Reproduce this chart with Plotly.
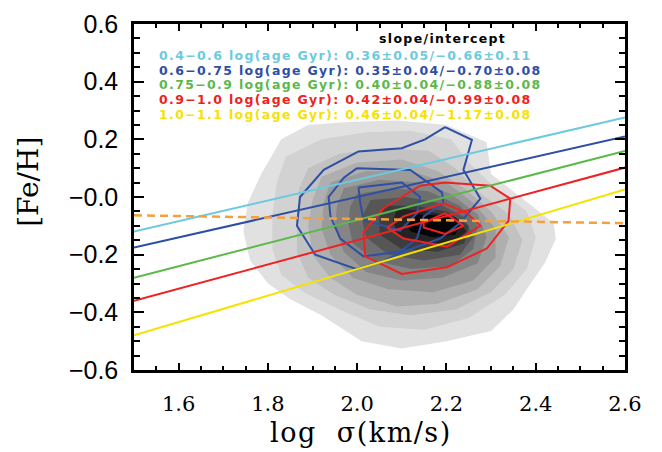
import plotly.graph_objects as go

# ---------------- data ----------------
x_ticks = [1.6, 1.8, 2.0, 2.2, 2.4, 2.6]
x_ticktext = ["1.6", "1.8", "2.0", "2.2", "2.4", "2.6"]
y_ticks = [-0.6, -0.4, -0.2, 0.0, 0.2, 0.4, 0.6]
y_ticktext = ["\u22120.6", "\u22120.4", "\u22120.2", "\u22120.0", "0.2", "0.4", "0.6"]

# fitted relations per age bin
age_bins = ["0.4\u22120.6", "0.6\u22120.75", "0.75\u22120.9", "0.9\u22121.0", "1.0\u22121.1"]
slopes = [0.36, 0.35, 0.40, 0.42, 0.46]
slope_err = [0.05, 0.04, 0.04, 0.04, 0.04]
intercepts = [-0.66, -0.70, -0.88, -0.99, -1.17]
intercept_err = [0.11, 0.08, 0.08, 0.08, 0.08]
bin_colors = ["#6CCAE0", "#2E4FA3", "#5DB84A", "#EE2222", "#F5E200"]

# whole-sample fit (dashed)
all_slope = -0.025
all_intercept = -0.026
x_fit = [1.5, 2.6]

# filled density contours (outer -> inner)
gray_x = [
    [1.83, 1.89, 1.98, 2.09, 2.20, 2.29, 2.30, 2.39, 2.44, 2.445, 2.42, 2.38, 2.35, 2.30, 2.20, 2.10, 2.01, 1.92, 1.85, 1.80, 1.76, 1.745, 1.755, 1.785],
    [1.84, 1.92, 2.02, 2.12, 2.21, 2.25, 2.31, 2.38, 2.40, 2.38, 2.33, 2.25, 2.15, 2.05, 1.96, 1.88, 1.83, 1.81, 1.81, 1.82],
    [1.89, 1.96, 2.06, 2.16, 2.22, 2.27, 2.34, 2.37, 2.35, 2.30, 2.22, 2.12, 2.03, 1.95, 1.89, 1.865, 1.865, 1.87],
    [1.92, 2.00, 2.10, 2.18, 2.24, 2.30, 2.34, 2.32, 2.27, 2.18, 2.09, 2.00, 1.94, 1.90, 1.89, 1.90],
    [1.94, 2.02, 2.12, 2.20, 2.26, 2.31, 2.31, 2.26, 2.17, 2.07, 1.99, 1.94, 1.92, 1.925],
    [1.97, 2.05, 2.14, 2.21, 2.27, 2.29, 2.27, 2.19, 2.10, 2.02, 1.97, 1.95, 1.955],
    [2.00, 2.08, 2.16, 2.23, 2.27, 2.26, 2.21, 2.12, 2.04, 1.99, 1.98, 1.985],
    [2.03, 2.11, 2.18, 2.24, 2.26, 2.23, 2.15, 2.07, 2.02, 2.01],
    [2.06, 2.13, 2.20, 2.25, 2.24, 2.18, 2.10, 2.05, 2.05],
    [2.09, 2.16, 2.22, 2.245, 2.21, 2.14, 2.09, 2.08],
    [2.13, 2.19, 2.23, 2.22, 2.17, 2.12, 2.11],
]
gray_y = [
    [0.20, 0.25, 0.26, 0.265, 0.25, 0.19, 0.08, -0.03, -0.09, -0.145, -0.23, -0.32, -0.39, -0.465, -0.50, -0.525, -0.50, -0.41, -0.355, -0.30, -0.22, -0.12, -0.02, 0.08],
    [0.14, 0.20, 0.225, 0.23, 0.20, 0.12, 0.03, -0.05, -0.14, -0.25, -0.34, -0.42, -0.46, -0.45, -0.39, -0.33, -0.27, -0.18, -0.06, 0.05],
    [0.10, 0.15, 0.17, 0.16, 0.10, 0.02, -0.06, -0.15, -0.25, -0.33, -0.39, -0.41, -0.39, -0.34, -0.28, -0.19, -0.07, 0.03],
    [0.07, 0.12, 0.13, 0.09, 0.03, -0.05, -0.14, -0.24, -0.32, -0.37, -0.38, -0.34, -0.28, -0.20, -0.10, -0.01],
    [0.05, 0.09, 0.09, 0.05, -0.02, -0.11, -0.21, -0.29, -0.33, -0.32, -0.28, -0.20, -0.11, -0.02],
    [0.03, 0.06, 0.05, 0.01, -0.06, -0.14, -0.23, -0.28, -0.29, -0.26, -0.19, -0.10, -0.03],
    [0.01, 0.03, 0.02, -0.03, -0.10, -0.18, -0.24, -0.25, -0.22, -0.16, -0.09, -0.03],
    [-0.01, 0.00, -0.02, -0.07, -0.14, -0.20, -0.22, -0.20, -0.14, -0.07],
    [-0.03, -0.03, -0.05, -0.10, -0.16, -0.19, -0.18, -0.13, -0.07],
    [-0.04, -0.05, -0.07, -0.12, -0.16, -0.16, -0.13, -0.08],
    [-0.06, -0.065, -0.09, -0.13, -0.14, -0.12, -0.09],
]
gray_colors = ["#E1E1E1", "#D2D2D2", "#C2C2C2", "#AFAFAF", "#9B9B9B", "#858585",
               "#6E6E6E", "#565656", "#3D3D3D", "#232323", "#050505"]

# young (blue) and old (red) sample contours
blue_x = [
    [2.197, 2.257, 2.238, 2.276, 2.231, 2.186, 2.104, 2.059, 1.999, 1.906, 1.865, 1.872, 1.925, 2.003, 2.10, 2.152],
    [2.00, 2.119, 2.19, 2.193, 2.149, 2.134, 2.096, 2.014, 1.962, 1.94, 1.936, 1.97],
    [2.003, 2.10, 2.141, 2.134, 2.096, 2.014, 2.007],
]
blue_y = [
    [0.242, 0.198, 0.094, -0.006, -0.089, -0.144, -0.189, -0.222, -0.25, -0.20, -0.10, 0.0, 0.094, 0.158, 0.169, 0.20],
    [0.10, 0.094, 0.016, -0.022, -0.067, -0.144, -0.189, -0.206, -0.144, -0.067, 0.0, 0.067],
    [0.033, 0.05, 0.0, -0.056, -0.117, -0.078, -0.022],
]
red_x = [
    [2.141, 2.197, 2.298, 2.343, 2.339, 2.291, 2.201, 2.10, 2.018, 2.014, 2.059],
    [2.067, 2.104, 2.194, 2.246, 2.276, 2.201, 2.104],
    [2.149, 2.197, 2.238, 2.197, 2.149],
]
red_y = [
    [0.039, 0.05, 0.039, -0.006, -0.083, -0.178, -0.244, -0.267, -0.206, -0.122, -0.039],
    [-0.106, -0.067, -0.022, -0.056, -0.10, -0.172, -0.144],
    [-0.089, -0.056, -0.10, -0.128, -0.106],
]
blue_color = "#2E4FA3"
red_color = "#EE2222"

# ---------------- figure ----------------
fig = go.Figure()

for xs, ys, c in zip(gray_x, gray_y, gray_colors):
    fig.add_trace(go.Scatter(x=xs + xs[:1], y=ys + ys[:1], mode="lines", fill="toself",
                             fillcolor=c, line=dict(width=0, color=c), hoverinfo="skip"))

for xs, ys in zip(blue_x, blue_y):
    fig.add_trace(go.Scatter(x=xs + xs[:1], y=ys + ys[:1], mode="lines",
                             line=dict(width=2, color=blue_color), hoverinfo="skip"))
for xs, ys in zip(red_x, red_y):
    fig.add_trace(go.Scatter(x=xs + xs[:1], y=ys + ys[:1], mode="lines",
                             line=dict(width=2, color=red_color), hoverinfo="skip"))

for s, b, c in zip(slopes, intercepts, bin_colors):
    fig.add_trace(go.Scatter(x=x_fit, y=[s * v + b for v in x_fit], mode="lines",
                             line=dict(width=2, color=c), hoverinfo="skip"))

fig.add_trace(go.Scatter(x=x_fit, y=[all_slope * v + all_intercept for v in x_fit], mode="lines",
                         line=dict(width=2.5, color="#F5A03C", dash="8px,5px"), hoverinfo="skip"))

SPACED = '<span style="letter-spacing:1.35px">%s</span>'

# legend text block
fig.add_annotation(xref="paper", yref="paper", x=0.629, y=0.958,
                   text="<b>" + SPACED % "slope/intercept" + "</b>",
                   showarrow=False, xanchor="center", yanchor="middle",
                   font=dict(family="DejaVu Sans", size=12.5, color="black"))
legend_y = [0.908, 0.866, 0.824, 0.781, 0.739]
for lab, s, se, b, be, c, yy in zip(age_bins, slopes, slope_err, intercepts, intercept_err, bin_colors, legend_y):
    body = "%s log(age Gyr): %.2f\u00b1%.2f/%s%.2f\u00b1%.2f" % (
        lab, s, se, "\u2212" if b < 0 else "", abs(b), be)
    fig.add_annotation(xref="paper", yref="paper", x=0.047, y=yy, text="<b>" + SPACED % body + "</b>",
                       showarrow=False, xanchor="left", yanchor="middle",
                       font=dict(family="DejaVu Sans", size=12.5, color=c))

# axis titles
fig.add_annotation(xref="paper", yref="paper", x=0.462, y=-0.18,
                   text='<span style="letter-spacing:1.5px">log\u00a0\u00a0\u03c3(km/s)</span>',
                   showarrow=False, xanchor="center", yanchor="middle",
                   font=dict(family="DejaVu Serif", size=27, color="black"))
fig.add_annotation(xref="paper", yref="paper", x=-0.215, y=0.545, text="[Fe/H]", textangle=-90,
                   showarrow=False, xanchor="center", yanchor="middle",
                   font=dict(family="DejaVu Serif", size=28, color="black"))

fig.update_layout(
    width=662, height=452,
    margin=dict(l=134, r=37, t=10, b=82),
    plot_bgcolor="white", paper_bgcolor="white",
    showlegend=False,
    xaxis=dict(range=[1.5, 2.6], tickmode="array", tickvals=x_ticks, ticktext=x_ticktext,
               ticks="inside", ticklen=7, tickwidth=2, tickcolor="black",
               showline=True, linewidth=2.5, linecolor="black", mirror="ticks",
               showgrid=False, zeroline=False, ticklabelstandoff=13, ticklabeloverflow="allow",
               tickfont=dict(family="DejaVu Serif", size=21, color="black"),
               minor=dict(tickmode="linear", tick0=1.5, dtick=0.05, ticks="inside", ticklen=4,
                          tickwidth=1.5, tickcolor="black", showgrid=False)),
    yaxis=dict(range=[-0.6, 0.6], tickmode="array", tickvals=y_ticks, ticktext=y_ticktext,
               ticks="inside", ticklen=10, tickwidth=2, tickcolor="black",
               showline=True, linewidth=2.5, linecolor="black", mirror="ticks",
               showgrid=False, zeroline=False, ticklabelstandoff=8, ticklabeloverflow="allow",
               tickfont=dict(family="Liberation Sans", size=25, color="black"),
               minor=dict(tickmode="linear", tick0=-0.6, dtick=0.05, ticks="inside", ticklen=6,
                          tickwidth=1.5, tickcolor="black", showgrid=False)),
)

fig.write_html("out.html")
